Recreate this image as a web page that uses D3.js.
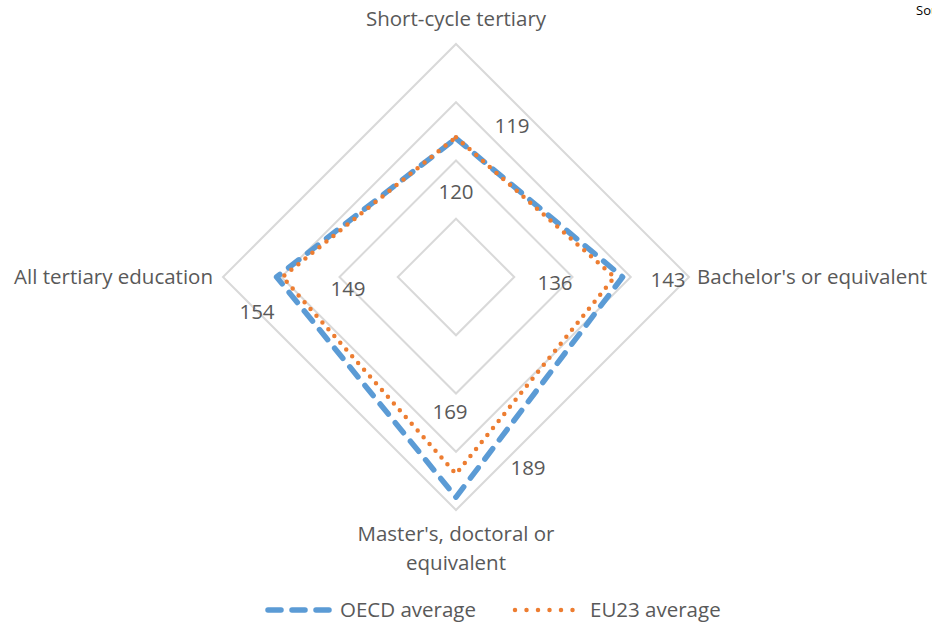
<!DOCTYPE html>
<meta charset="utf-8">
<style>
    body { margin: 0; background: #fff; }
    svg { font-family: "Open Sans", "Noto Sans", sans-serif; }
    .grid { fill: none; stroke: #d9d9d9; stroke-width: 2px; }
    .axis-label, .val-label, .legend text { fill: #595959; font-size: 20.5px; }
</style>
<body>
<script src="https://cdn.jsdelivr.net/npm/d3@7/dist/d3.min.js"></script>
<script>
// data
var categories = ["Short-cycle tertiary", "Bachelor's or equivalent", "Master's, doctoral or equivalent", "All tertiary education"];
var oecd = [119, 143, 189, 154];
var eu23 = [120, 136, 169, 149];
var ticks = [50, 100, 150, 200];
var seriesNames = ["OECD average", "EU23 average"];

// layout
var width = 932, height = 623;
var cx = 456, cy = 277, radius = 233;

var r = d3.scaleLinear().domain([0, 200]).range([0, radius]);
var angle = d3.scaleLinear().domain([0, categories.length]).range([0, 2 * Math.PI]);

var svg = d3.select("body").append("svg")
    .attr("width", width)
    .attr("height", height);

var g = svg.append("g")
    .attr("transform", "translate(" + cx + "," + cy + ")");

var radial = d3.lineRadial()
    .angle(function (d, i) { return angle(i); })
    .radius(function (d) { return r(d); })
    .curve(d3.curveLinearClosed);

// grid rings
g.selectAll(".grid")
    .data(ticks)
    .enter().append("path")
    .attr("class", "grid")
    .attr("d", function (t) { return radial(categories.map(function () { return t; })); });

// series
g.append("path")
    .datum(oecd)
    .attr("d", radial)
    .attr("fill", "none")
    .attr("stroke", "#5b9bd5")
    .attr("stroke-width", 5.5)
    .attr("stroke-linecap", "round")
    .attr("stroke-linejoin", "round")
    .attr("stroke-dasharray", "13 11");

g.append("path")
    .datum(eu23)
    .attr("d", radial)
    .attr("fill", "none")
    .attr("stroke", "#ed7d31")
    .attr("stroke-width", 4.5)
    .attr("stroke-linecap", "round")
    .attr("stroke-dasharray", "0 9");

// value labels (offsets from centre, px)
var oecdPos = [[56, -151], [212, 3], [72, 191], [-199, 35]];
var euPos = [[0, -85], [99, 6], [-6, 135], [-108, 12]];

function valueLabels(vals, pos) {
    g.selectAll(null)
        .data(vals)
        .enter().append("text")
        .attr("class", "val-label")
        .attr("x", function (d, i) { return pos[i][0]; })
        .attr("y", function (d, i) { return pos[i][1]; })
        .attr("dy", "0.35em")
        .attr("text-anchor", "middle")
        .text(function (d) { return d; });
}
valueLabels(oecd, oecdPos);
valueLabels(eu23, euPos);

// category labels
var catPos = [
    { x: 0, y: -258, anchor: "middle", lines: [categories[0]] },
    { x: 241, y: 0, anchor: "start", lines: [categories[1]] },
    { x: 0, y: 257, anchor: "middle", lines: ["Master's, doctoral or", "equivalent"] },
    { x: -243, y: 0, anchor: "end", lines: [categories[3]] }
];
catPos.forEach(function (c) {
    var t = g.append("text")
        .attr("class", "axis-label")
        .attr("text-anchor", c.anchor)
        .attr("x", c.x)
        .attr("y", c.y);
    c.lines.forEach(function (l, i) {
        t.append("tspan")
            .attr("x", c.x)
            .attr("dy", i === 0 ? "0.35em" : "1.4em")
            .text(l);
    });
});

// legend
var legend = svg.append("g").attr("class", "legend")
    .attr("transform", "translate(0,610)");

legend.append("line")
    .attr("x1", 268).attr("x2", 330).attr("y1", 0).attr("y2", 0)
    .attr("stroke", "#5b9bd5").attr("stroke-width", 5.5)
    .attr("stroke-linecap", "round").attr("stroke-dasharray", "13 11");
legend.append("text").attr("x", 340).attr("y", 0).attr("dy", "0.35em").text(seriesNames[0]);

legend.append("line")
    .attr("x1", 515).attr("x2", 580).attr("y1", 0).attr("y2", 0)
    .attr("stroke", "#ed7d31").attr("stroke-width", 4.5)
    .attr("stroke-linecap", "round").attr("stroke-dasharray", "0 11.5");
legend.append("text").attr("x", 590).attr("y", 0).attr("dy", "0.35em").text(seriesNames[1]);

// source note, cut off at the right edge as in the original
svg.append("text")
    .attr("x", 916).attr("y", 15)
    .attr("fill", "#000")
    .style("font-size", "13px")
    .text("Source");
</script>
</body>
